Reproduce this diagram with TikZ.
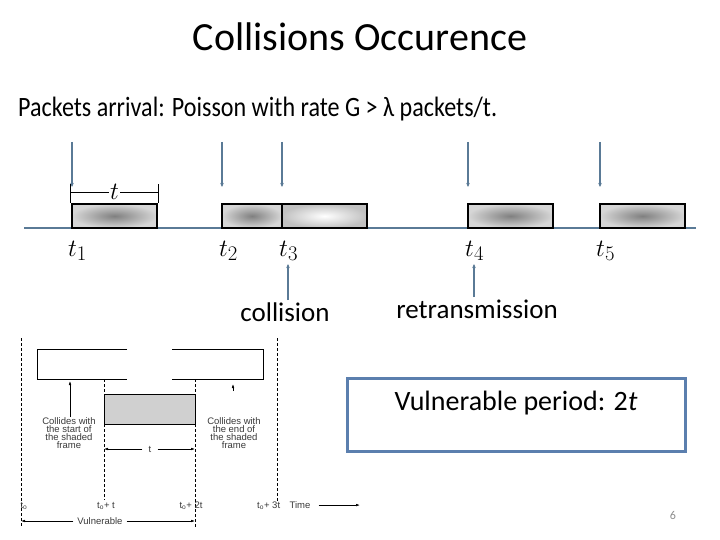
\documentclass[tikz,border=0pt]{standalone}
\usepackage{fontspec}
\setmainfont{Carlito}
\newfontfamily\figfont{Liberation Sans}
\usepackage{graphicx}
\usetikzlibrary{positioning, arrows.meta, calc}
\definecolor{cLine}   {HTML}{5A7A96}
\definecolor{cBox}    {HTML}{5B7FAE}
\definecolor{cPktIn}  {HTML}{808080}
\definecolor{cPktOut} {HTML}{D6D6D6}
\definecolor{cFig}    {HTML}{3A3A3A}
\definecolor{cShade}  {HTML}{D0D0D0}
\definecolor{cMuted}  {HTML}{8C8C8C}
\tikzset{
  pkt/.style={draw=black, line width=2.5pt, inner color=cPktIn, outer color=cPktOut,
    minimum height=24pt, minimum width=85pt, inner sep=0pt},
  arrival/.style={draw=cLine, line width=1.2pt, -{Stealth[length=4pt, width=3.5pt]}},
  tlbl/.style={font=\fontsize{29}{30}\selectfont, anchor=base west, inner sep=0pt},
  bigtxt/.style={font=\fontsize{27}{30}\selectfont, anchor=base, inner sep=2pt},
  figtxt/.style={font=\figfont\fontsize{9.5}{8}\selectfont, text=cFig, align=center, inner sep=0pt},
  figarr/.style={-{Latex[length=4pt, width=2.6pt]}, line width=0.6pt},
  vline/.style={dash pattern=on 3pt off 2pt, line width=0.6pt},
}
\begin{document}
\begin{tikzpicture}[x=1pt, y=-1pt]
  \useasboundingbox (0,0) rectangle (720,540);
  \node[font=\fontsize{40}{48}\selectfont, anchor=base] (title) at (360,51) {Collisions Occurence};
  \node[font=\fontsize{28}{32}\selectfont, anchor=base west, inner sep=0pt] (rate) at (18,117)
    {\scalebox{0.86}[1]{Packets arrival: Poisson with rate G > λ packets/t.}};

  \draw[cLine, line width=1.5pt] (24,228) -- (696,228);
  \node[pkt] (p1) at (114.5,216) {};
  \node[pkt, minimum width=60pt] (p2) at (252,216) {};
  \node[pkt, inner color=white, outer color=cPktOut!90!black] (p3) at (324.5,216) {};
  \node[pkt] (p4) at (510.5,216) {};
  \node[pkt] (p5) at (642.5,216) {};
  \foreach \x/\n in {72/1, 222/2, 282/3, 468/4, 600/5} {
    \coordinate (a\n) at (\x,142);
    \coordinate (b\n) at (\x,187);
    \draw[arrival] (a\n) -- (b\n);
  }

  \node[font=\fontsize{28}{28}\selectfont, inner sep=1pt] (tdim) at (114.5,192) {$t$};
  \draw[line width=0.6pt] (p1.north west) -- ++(0,-19) (p1.north east) -- ++(0,-19);
  \draw[line width=0.6pt] (p1.north west |- tdim) -- (tdim.west) (tdim.east) -- (p1.north east |- tdim);

  \node[tlbl] (t1) at (68,256) {$t_1$};
  \node[tlbl] (t2) at (219,256) {$t_2$};
  \node[tlbl] (t3) at (279,256) {$t_3$};
  \node[tlbl] (t4) at (465,256) {$t_4$};
  \node[tlbl] (t5) at (596,256) {$t_5$};

  \node[bigtxt] (coll) at (285,321) {collision};
  \coordinate (c3) at (288,264);
  \draw[arrival] (coll.north -| c3) -- (c3);
  \node[bigtxt] (retx) at (477,318) {retransmission};
  \coordinate (c4) at (474,264);
  \draw[arrival] (retx.north -| c4) -- (c4);

  \node[draw=cBox, line width=3pt, minimum width=338pt, minimum height=73pt] (vbox) at (516,414.5) {};
  \node[bigtxt, font=\fontsize{28}{30}\selectfont] (vtxt) at (516,410) {Vulnerable period: 2\textit{t}};
  \node[font=\fontsize{12}{12}\selectfont, text=cMuted] (page) at (673,515) {6};

  \coordinate (L0) at (21,338);
  \coordinate (L1) at (104,379);
  \coordinate (L2) at (195,379);
  \coordinate (L3) at (277,338);
  \draw[vline] (L0) -- ++(0,189);
  \draw[vline] (L1) -- ++(0,121);
  \draw[vline] (L2) -- ++(0,148);
  \draw[vline] (L3) -- ++(0,165);
  \draw[line width=0.6pt] (127,349) -- (37,349) -- (37,379) -- (127,379);
  \draw[line width=0.6pt] (172,349) -- (263,349) -- (263,379) -- (172,379);
  \draw[line width=0.6pt, fill=cShade] (L1 |- 0,394) rectangle (195,424);

  \node[figtxt, anchor=north] (cStart) at (69,417) {Collides with\\the start of\\the shaded\\frame};
  \node[figtxt, anchor=north] (cEnd) at (234,417) {Collides with\\the end of\\the shaded\\frame};
  \coordinate (sHit) at (70,381);
  \coordinate (eHit) at (233,384);
  \draw[figarr] (cStart.north -| sHit) -- (sHit);
  \draw[figarr] ([yshift=-7pt]eHit) -- (eHit);

  \node[figtxt] (fT) at (150,449) {t};
  \draw[figarr] ([xshift=-6pt]fT.west) -- (fT.west -| L1);
  \draw[figarr] ([xshift=6pt]fT.east) -- (fT.east -| L2);

  \node[figtxt, anchor=base] (b0) at (24,508) {t\textsubscript{o}};
  \node[figtxt, anchor=base] (b1) at (106,508) {t\textsubscript{o}+ t};
  \node[figtxt, anchor=base] (b2) at (191,508) {t\textsubscript{o}+ 2t};
  \node[figtxt, anchor=base west] (b3) at (257,508) {t\textsubscript{o}+ 3t\quad Time};
  \coordinate (tEnd) at (360,505);
  \draw[figarr] ([xshift=8pt]b3.east) -- (b3.east -| tEnd);

  \node[figtxt] (fV) at (100,521) {Vulnerable};
  \draw[figarr] ([xshift=-4pt]fV.west) -- (fV.west -| L0);
  \draw[figarr] ([xshift=4pt]fV.east) -- (fV.east -| L2);
\end{tikzpicture}
\end{document}
